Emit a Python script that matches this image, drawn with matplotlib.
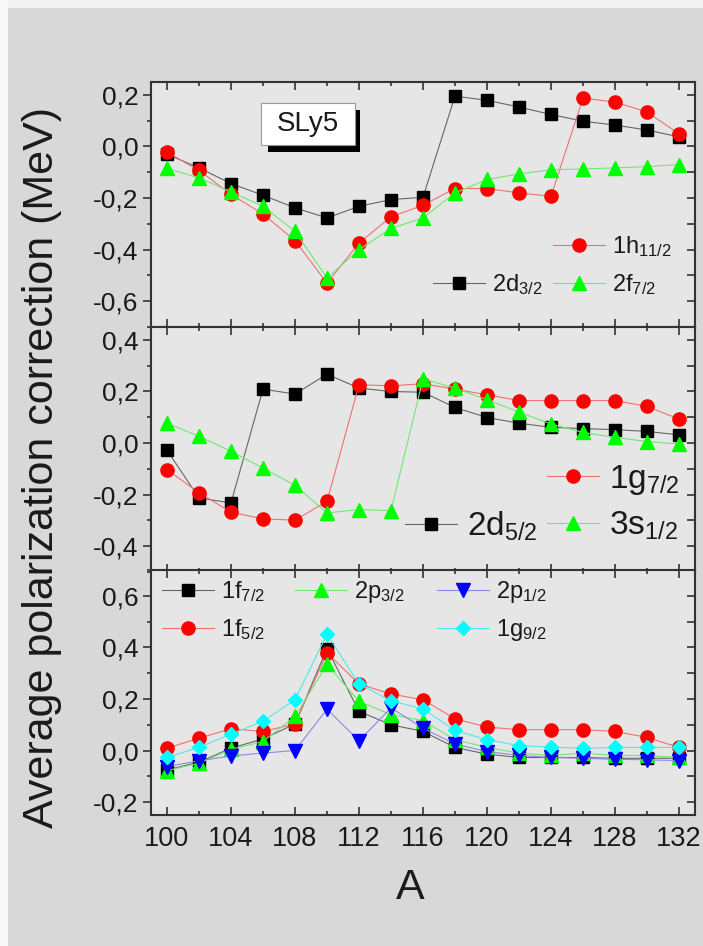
import matplotlib
matplotlib.use('Agg')
import matplotlib.pyplot as plt
from matplotlib.legend import Legend
from matplotlib.patches import Rectangle
from matplotlib.ticker import MultipleLocator, FuncFormatter

plt.rcParams['font.family'] = ['Liberation Sans', 'DejaVu Sans']
plt.rcParams['mathtext.fontset'] = 'custom'
plt.rcParams['mathtext.rm'] = 'Liberation Sans'
plt.rcParams['mathtext.it'] = 'Liberation Sans:italic'
plt.rcParams['mathtext.default'] = 'regular'

# === DATA === #
A = [100, 102, 104, 106, 108, 110, 112, 114, 116, 118, 120, 122, 124, 126, 128, 130, 132]

# top panel
d32 = [-0.03, -0.083, -0.144, -0.189, -0.238, -0.277, -0.232, -0.206, -0.197,
       0.195, 0.179, 0.153, 0.124, 0.098, 0.083, 0.064, 0.037]
h112 = [-0.022, -0.093, -0.186, -0.262, -0.365, -0.53, -0.374, -0.273, -0.228,
        -0.163, -0.163, -0.18, -0.193, 0.188, 0.172, 0.134, 0.049]
f72 = [-0.085, -0.122, -0.176, -0.232, -0.329, -0.51, -0.40, -0.318, -0.277,
       -0.18, -0.128, -0.106, -0.091, -0.087, -0.083, -0.078, -0.07]

# middle panel
d52 = [-0.028, -0.213, -0.232, 0.209, 0.19, 0.267, 0.213, 0.2, 0.197,
       0.138, 0.099, 0.077, 0.061, 0.056, 0.052, 0.045, 0.032]
g72 = [-0.103, -0.193, -0.268, -0.294, -0.299, -0.226, 0.226, 0.222, 0.23,
       0.209, 0.187, 0.165, 0.165, 0.165, 0.165, 0.142, 0.093]
s12 = [0.077, 0.026, -0.032, -0.097, -0.164, -0.271, -0.258, -0.262, 0.249,
       0.213, 0.168, 0.12, 0.074, 0.041, 0.022, 0.006, -0.004]

# bottom panel
f72b = [-0.075, -0.045, 0.009, 0.045, 0.103, 0.395, 0.152, 0.10, 0.074,
        0.012, -0.014, -0.027, -0.027, -0.027, -0.03, -0.03, -0.03]
f52 = [0.009, 0.048, 0.084, 0.074, 0.103, 0.379, 0.258, 0.219, 0.197,
       0.123, 0.091, 0.081, 0.081, 0.081, 0.074, 0.051, 0.012]
p32 = [-0.078, -0.049, 0.005, 0.035, 0.132, 0.334, 0.191, 0.139, 0.116,
       0.042, 0.012, -0.01, -0.019, -0.01, -0.019, -0.019, -0.027]
p12 = [-0.062, -0.04, -0.021, -0.01, 0.0, 0.16, 0.038, 0.165, 0.087,
       0.025, -0.004, -0.019, -0.027, -0.03, -0.034, -0.036, -0.039]
g92 = [-0.027, 0.012, 0.064, 0.113, 0.197, 0.451, 0.258, 0.193, 0.161,
       0.078, 0.042, 0.019, 0.013, 0.009, 0.012, 0.012, 0.012]

# === STYLES === #
FIGBG = '#d8d8d8'
AXBG = '#e6e6e6'
FRAME = '#333333'
sty = {
    'k': dict(color='#666666', marker='s', mfc='black', mec='black', ms=8.5),
    'r': dict(color='#f07070', marker='o', mfc='#ff0000', mec='#ff0000', ms=9.5),
    'g': dict(color='#70e870', marker='^', mfc='#00ff00', mec='#00ff00', ms=9.5),
    'b': dict(color='#8888ee', marker='v', mfc='#0000ff', mec='#0000ff', ms=9.5),
    'c': dict(color='#50e8e8', marker='D', mfc='#00ffff', mec='#00ffff', ms=7),
}

W, H = 703, 946
fig = plt.figure(figsize=(W / 100, H / 100), dpi=100)
fig.patch.set_facecolor(FIGBG)
# light strip of the screenshot border on top and left
fig.patches.append(Rectangle((0, 1 - 8 / H), 1, 8 / H, transform=fig.transFigure,
                             facecolor='#f2f2f2', edgecolor='none', zorder=-5))
fig.patches.append(Rectangle((0, 0), 8 / W, 1, transform=fig.transFigure,
                             facecolor='#f8f8f8', edgecolor='none', zorder=-5))

left, width = 151 / W, 544 / W
ph = 245 / H
bots = [1 - 327 / H, 1 - 572 / H, 1 - 815 / H]
ylims = [(-0.7, 0.25), (-0.5, 0.45), (-0.25, 0.7)]


def comma(v, pos):
    if abs(v) < 1e-9:
        v = 0.0
    return ('%.1f' % v).replace('.', ',')


fmt = FuncFormatter(comma)

axes = []
for i in range(3):
    ax = fig.add_axes([left, bots[i], width, ph])
    ax.set_facecolor(AXBG)
    ax.set_xlim(99, 133)
    ax.set_ylim(*ylims[i])
    ax.xaxis.set_major_locator(MultipleLocator(4))
    ax.xaxis.set_minor_locator(MultipleLocator(2))
    ax.yaxis.set_major_locator(MultipleLocator(0.2))
    ax.yaxis.set_minor_locator(MultipleLocator(0.1))
    ax.yaxis.set_major_formatter(fmt)
    for s in ax.spines.values():
        s.set_color(FRAME)
        s.set_linewidth(1.5)
    ax.tick_params(axis='x', which='both', direction='in', top=True, bottom=True,
                   color=FRAME, width=1.2, labelsize=19.5, labelcolor='#1a1a1a', pad=8)
    ax.tick_params(axis='x', which='major', length=6)
    ax.tick_params(axis='x', which='minor', length=3)
    ax.tick_params(axis='y', which='both', direction='out', right=False,
                   color=FRAME, width=1.2, labelsize=19, labelcolor='#1a1a1a', pad=3)
    ax.tick_params(axis='y', which='major', length=6)
    ax.tick_params(axis='y', which='minor', length=3)
    # inward ticks on the right side
    sec = ax.secondary_yaxis('right')
    sec.yaxis.set_major_locator(MultipleLocator(0.2))
    sec.yaxis.set_minor_locator(MultipleLocator(0.1))
    sec.tick_params(axis='y', which='both', direction='in', length=6, width=1.2,
                    color=FRAME, labelright=False)
    sec.spines['right'].set_visible(False)
    if i < 2:
        ax.tick_params(axis='x', labelbottom=False)
    axes.append(ax)

ax1, ax2, ax3 = axes


def plot(ax, y, key):
    ln, = ax.plot(A, y, lw=0.8, **sty[key])
    return ln


l_d32 = plot(ax1, d32, 'k')
l_h112 = plot(ax1, h112, 'r')
l_f72 = plot(ax1, f72, 'g')

l_d52 = plot(ax2, d52, 'k')
l_g72 = plot(ax2, g72, 'r')
l_s12 = plot(ax2, s12, 'g')

l_f72b = plot(ax3, f72b, 'k')
l_f52 = plot(ax3, f52, 'r')
l_p32 = plot(ax3, p32, 'g')
l_p12 = plot(ax3, p12, 'b')
l_g92 = plot(ax3, g92, 'c')


def entry(ax, h, lab, xpx, ypx, fs, linepx=52):
    hl = linepx / (fs * 100 / 72)
    leg = Legend(ax, [h], [lab], loc='center left',
                 bbox_to_anchor=(xpx / W, 1 - ypx / H), bbox_transform=fig.transFigure,
                 frameon=False, fontsize=fs, handlelength=hl, handletextpad=0.3,
                 borderpad=0, borderaxespad=0, labelcolor='#1a1a1a')
    ax.add_artist(leg)


entry(ax1, l_h112, '1h$_{11/2}$', 553, 247, 17)
entry(ax1, l_d32, '2d$_{3/2}$', 433, 285, 17)
entry(ax1, l_f72, '2f$_{7/2}$', 553, 285, 17)

entry(ax2, l_g72, '1g$_{7/2}$', 547, 480, 24)
entry(ax2, l_d52, '2d$_{5/2}$', 405, 526, 24)
entry(ax2, l_s12, '3s$_{1/2}$', 547, 526, 24)

entry(ax3, l_f72b, '1f$_{7/2}$', 162, 592, 17)
entry(ax3, l_f52, '1f$_{5/2}$', 162, 630, 17)
entry(ax3, l_p32, '2p$_{3/2}$', 295, 592, 17)
entry(ax3, l_p12, '2p$_{1/2}$', 437, 592, 17)
entry(ax3, l_g92, '1g$_{9/2}$', 437, 630, 17)

# SLy5 box with drop shadow
ax1.add_patch(Rectangle(((268 - 151) / 544, (327 - 152) / 245), 92 / 544, 42 / 245,
                        transform=ax1.transAxes, facecolor='black', edgecolor='none', zorder=5))
ax1.add_patch(Rectangle(((261 - 151) / 544, (327 - 145) / 245), 94 / 544, 42 / 245,
                        transform=ax1.transAxes, facecolor='white', edgecolor='#999999',
                        lw=0.8, zorder=6))
ax1.text((308 - 151) / 544, (327 - 124) / 245, 'SLy5', transform=ax1.transAxes,
         ha='center', va='center', fontsize=20, color='#1a1a1a', zorder=7)

fig.text(42 / W, 1 - 467 / H, 'Average polarization correction (MeV)', rotation=90,
         ha='center', va='center', fontsize=31, color='#1a1a1a')
fig.text(410 / W, 1 - 888 / H, 'A', ha='center', va='center', fontsize=31, color='#1a1a1a')

fig.savefig('out.png', dpi=100, facecolor=fig.get_facecolor())
